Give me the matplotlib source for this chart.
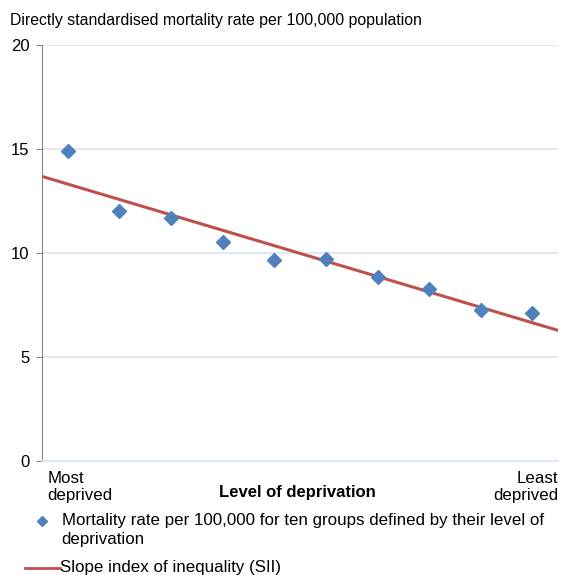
import matplotlib.pyplot as plt
from matplotlib.lines import Line2D

plt.rcParams['font.family'] = ['Liberation Sans', 'DejaVu Sans']

# mortality rate for ten deprivation groups (most -> least deprived)
groups = list(range(1, 11))
rates = [14.88, 12.0, 11.68, 10.51, 9.64, 9.71, 8.85, 8.28, 7.27, 7.12]
# slope index of inequality line: fitted value at most / least deprived end
sii_start = 13.68
sii_end = 6.28
yticks = [0, 5, 10, 15, 20]

blue = '#4F81BD'
red = '#C0504D'
grid = '#DCE6F2'

fig = plt.figure(figsize=(5.61, 5.75), dpi=100)
ax = fig.add_axes([0.075, 0.198, 0.92, 0.724])

x = [g - 0.5 for g in groups]
ax.plot([0, 10], [sii_start, sii_end], color=red, linewidth=2.2, zorder=2)
ax.plot(x, rates, linestyle='none', marker='D', markersize=6.8, color=blue, zorder=3)

ax.set_xlim(0, 10)
ax.set_ylim(0, 20)
ax.set_yticks(yticks)
ax.set_xticks([])
ax.yaxis.grid(True, color=grid, linewidth=1.2)
ax.set_axisbelow(True)
for s in ['top', 'right']:
    ax.spines[s].set_visible(False)
ax.spines['left'].set_color('#868686')
ax.spines['bottom'].set_color(grid)
ax.spines['bottom'].set_linewidth(1.2)
ax.tick_params(axis='y', length=4, color='#868686', labelsize=12, pad=5)

fig.text(0.018, 0.964, 'Directly standardised mortality rate per 100,000 population',
         fontsize=11.4, va='center')

# x-axis end labels
fig.text(0.085, 0.153, 'Most\ndeprived', fontsize=12.2, va='center', ha='left', linespacing=1.1)
fig.text(0.995, 0.153, 'Least\ndeprived', fontsize=12.2, va='center', ha='right', linespacing=1.1)
fig.text(0.53, 0.143, 'Level of deprivation', fontsize=12, fontweight='bold', ha='center', va='center')

# legend
fig.add_artist(Line2D([0.074], [0.094], marker='D', markersize=5, color=blue,
                      linestyle='none', transform=fig.transFigure))
fig.text(0.11, 0.094, 'Mortality rate per 100,000 for ten groups defined by their level of',
         fontsize=12.2, va='center')
fig.text(0.11, 0.062, 'deprivation', fontsize=12.2, va='center')
fig.add_artist(Line2D([0.044, 0.107], [0.013, 0.013], color=red, linewidth=2,
                      transform=fig.transFigure))
fig.text(0.107, 0.013, 'Slope index of inequality (SII)', fontsize=12.2, va='center')

plt.savefig('out.png', dpi=100)
